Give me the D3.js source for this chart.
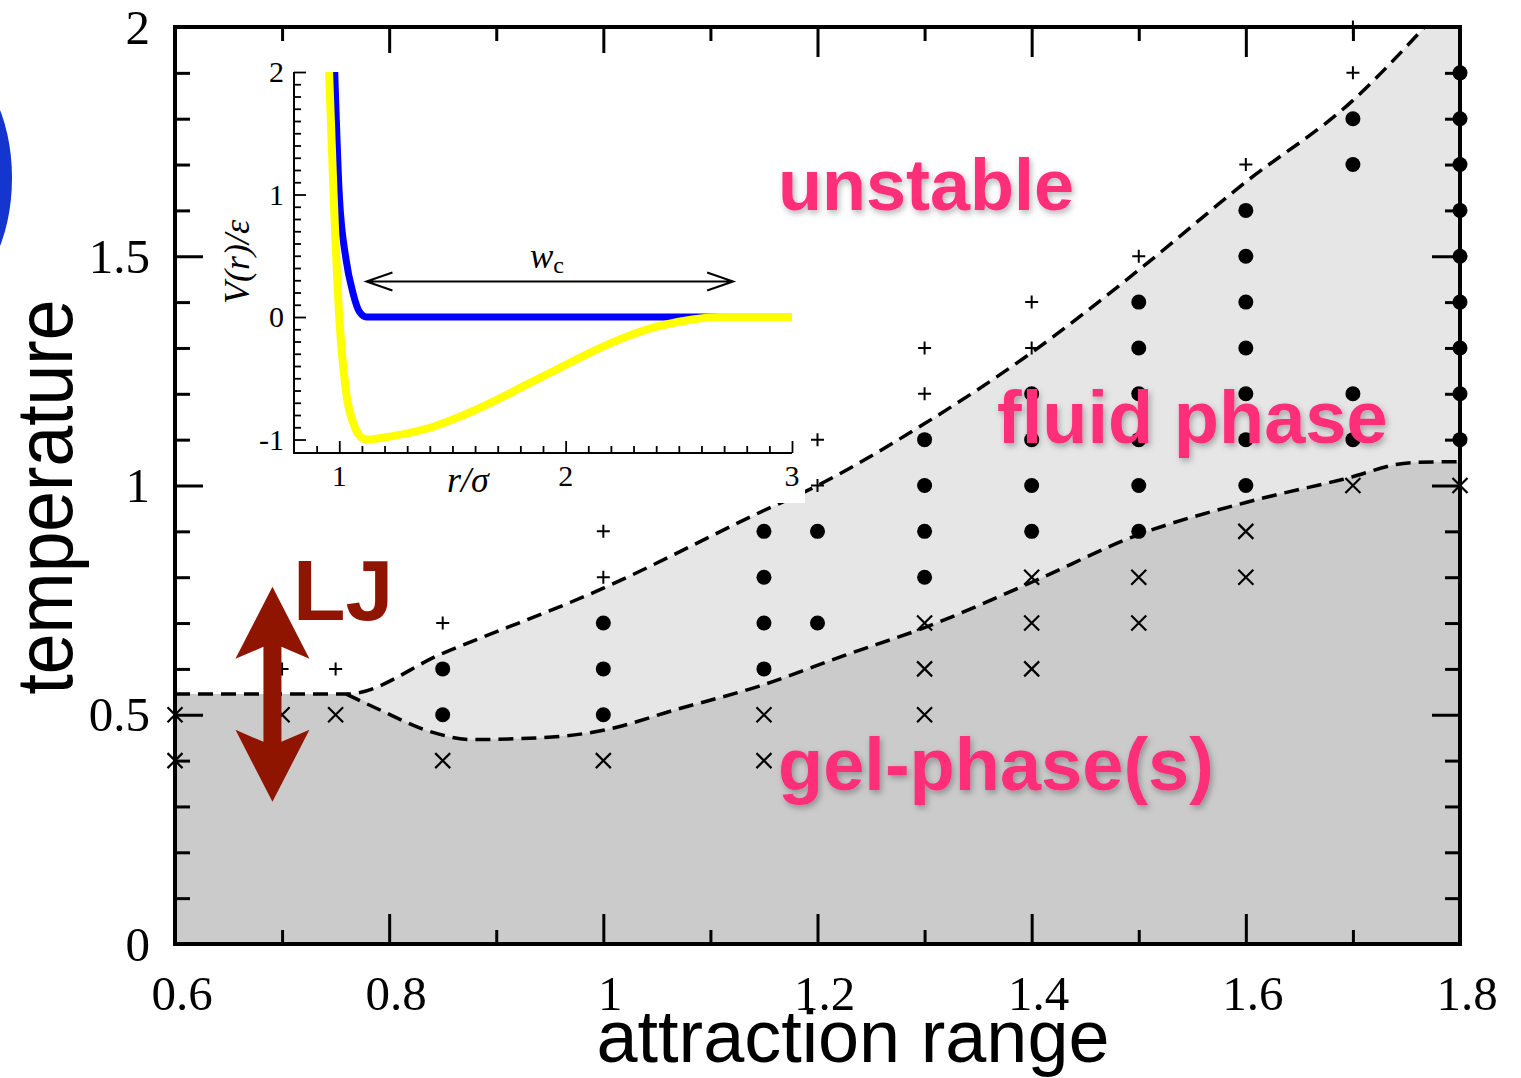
<!DOCTYPE html>
<html>
<head>
<meta charset="utf-8">
<script src="https://cdn.jsdelivr.net/npm/d3@7"></script>
<style>
  body { margin: 0; background: #fff; }
  svg { display: block; }
</style>
</head>
<body>
<div class="content"></div>
<script>
(function () {
    'use strict';

    // --- data ---
    // simulated state points: [attraction range, temperature]
    var unstablePts = [[0.7, 0.6], [0.75, 0.6], [0.85, 0.7], [1.0, 0.8], [1.0, 0.9], [1.2, 1.0], [1.2, 1.1],
        [1.3, 1.2], [1.3, 1.3], [1.4, 1.3], [1.4, 1.4], [1.5, 1.5], [1.6, 1.7], [1.7, 1.9], [1.7, 2.0]];
    var fluidPts = [[0.85, 0.5], [0.85, 0.6],
        [1.0, 0.5], [1.0, 0.6], [1.0, 0.7],
        [1.15, 0.6], [1.15, 0.7], [1.15, 0.8], [1.15, 0.9],
        [1.2, 0.7], [1.2, 0.9],
        [1.3, 0.8], [1.3, 0.9], [1.3, 1.0], [1.3, 1.1],
        [1.4, 0.9], [1.4, 1.0], [1.4, 1.1], [1.4, 1.2],
        [1.5, 0.9], [1.5, 1.0], [1.5, 1.1], [1.5, 1.2], [1.5, 1.3], [1.5, 1.4],
        [1.6, 1.0], [1.6, 1.1], [1.6, 1.2], [1.6, 1.3], [1.6, 1.4], [1.6, 1.5], [1.6, 1.6],
        [1.7, 1.1], [1.7, 1.2], [1.7, 1.7], [1.7, 1.8],
        [1.8, 1.1], [1.8, 1.2], [1.8, 1.3], [1.8, 1.4], [1.8, 1.5], [1.8, 1.6], [1.8, 1.7], [1.8, 1.8], [1.8, 1.9]];
    var gelPts = [[0.6, 0.4], [0.6, 0.5], [0.7, 0.5], [0.75, 0.5], [0.85, 0.4], [1.0, 0.4],
        [1.15, 0.4], [1.15, 0.5], [1.3, 0.5], [1.3, 0.6], [1.3, 0.7], [1.4, 0.6], [1.4, 0.7], [1.4, 0.8],
        [1.5, 0.7], [1.5, 0.8], [1.6, 0.8], [1.6, 0.9], [1.7, 1.0], [1.8, 1.0]];

    // phase boundaries
    var upperX = [0.6, 0.76, 0.85, 1.0, 1.145, 1.2, 1.3, 1.4, 1.5, 1.6, 1.7, 1.767];
    var upperT = [0.545, 0.545, 0.634, 0.776, 0.94, 1.0, 1.135, 1.29, 1.47, 1.662, 1.84, 2.0];
    var lowerX = [0.76, 0.79, 0.84, 0.877, 0.943, 1.0, 1.069, 1.145, 1.226, 1.3, 1.4, 1.5, 1.6, 1.69, 1.755, 1.8];
    var lowerT = [0.545, 0.512, 0.462, 0.446, 0.45, 0.466, 0.512, 0.562, 0.63, 0.69, 0.789, 0.893, 0.963, 1.013, 1.05, 1.052];

    var xTickLabels = [0.6, 0.8, 1, 1.2, 1.4, 1.6, 1.8];
    var yTickLabels = [0, 0.5, 1, 1.5, 2];

    // inset: pair potentials V(r)/eps
    var wideR = [0.955, 0.975, 1.0, 1.03, 1.065, 1.09, 1.12, 1.24, 1.39, 1.53, 1.68, 1.83, 1.975, 2.12, 2.27, 2.41, 2.56, 2.69, 3.0];
    var wideV = [2.0, 1.0, 0.0, -0.61, -0.88, -0.97, -1.0, -0.97, -0.91, -0.815, -0.69, -0.55, -0.415, -0.28, -0.16, -0.075, -0.02, 0, 0];
    var wcaR = [0.98, 1.0, 1.03, 1.06, 1.09, 1.12, 2.7];
    var wcaV = [2.0, 1.0, 0.47, 0.2, 0.04, 0.0, 0.0];
    var insetYLabels = ['-1', '0', '1', '2'];
    var insetXLabels = [1, 2, 3];

    var W = 1521, H = 1078,
        serif = '"Liberation Serif", "DejaVu Serif", serif',
        sans = '"Liberation Sans", Arimo, Helvetica, Arial, sans-serif',
        pink = '#ff2d78', darkRed = '#901500';

    var svg = d3.select('.content').append('svg').attr('width', W).attr('height', H);
    var defs = svg.append('defs');
    var shadow = defs.append('filter').attr('id', 'shadow')
        .attr('x', '-10%').attr('y', '-20%').attr('width', '130%').attr('height', '150%');
    shadow.append('feDropShadow').attr('dx', 2).attr('dy', 3).attr('stdDeviation', 3)
        .attr('flood-color', '#000').attr('flood-opacity', 0.3);

    // blue blob cut by the left edge
    svg.append('ellipse').attr('cx', -50).attr('cy', 178).attr('rx', 62).attr('ry', 115).attr('fill', '#1535cf');

    var x = d3.scaleLinear().domain([0.6, 1.8]).range([175, 1460]);
    var y = d3.scaleLinear().domain([0, 2]).range([944, 27]);

    function pairs(a, b) {
        return a.map(function (v, i) { return [v, b[i]]; });
    }
    var upperPts = pairs(upperX, upperT), lowerPts = pairs(lowerX, lowerT);
    var boundary = d3.line().x(function (d) { return x(d[0]); }).y(function (d) { return y(d[1]); })
        .curve(d3.curveMonotoneX);

    // regions
    svg.append('path')
        .attr('d', boundary(upperPts) + 'L' + x(1.8) + ',' + y(2) + 'L' + x(1.8) + ',' + y(0) + 'L' + x(0.6) + ',' + y(0) + 'Z')
        .attr('fill', '#e6e6e6');
    svg.append('path')
        .attr('d', boundary([[0.6, lowerT[0]]].concat(lowerPts)) + 'L' + x(1.8) + ',' + y(0) + 'L' + x(0.6) + ',' + y(0) + 'Z')
        .attr('fill', '#cbcbcb');

    [upperPts, lowerPts].forEach(function (pts) {
        svg.append('path').attr('d', boundary(pts)).attr('fill', 'none')
            .attr('stroke', '#000').attr('stroke-width', 3.5).attr('stroke-dasharray', '15,8');
    });

    // markers
    svg.append('g').selectAll('circle').data(fluidPts).enter().append('circle')
        .attr('cx', function (d) { return x(d[0]); })
        .attr('cy', function (d) { return y(d[1]); })
        .attr('r', 7.5).attr('fill', '#000');
    svg.append('g').selectAll('path').data(unstablePts).enter().append('path')
        .attr('d', function (d) {
            var cx = x(d[0]), cy = y(d[1]), s = 6.5;
            return 'M' + (cx - s) + ',' + cy + 'H' + (cx + s) + 'M' + cx + ',' + (cy - s) + 'V' + (cy + s);
        })
        .attr('stroke', '#000').attr('stroke-width', 2);
    svg.append('g').selectAll('path').data(gelPts).enter().append('path')
        .attr('d', function (d) {
            var cx = x(d[0]), cy = y(d[1]), s = 7.5;
            return 'M' + (cx - s) + ',' + (cy - s) + 'L' + (cx + s) + ',' + (cy + s) +
                'M' + (cx - s) + ',' + (cy + s) + 'L' + (cx + s) + ',' + (cy - s);
        })
        .attr('stroke', '#000').attr('stroke-width', 2.2);

    // frame and inward ticks
    function ticks(axisFn, scale, vals, size, transform, width) {
        var g = svg.append('g').attr('transform', transform)
            .call(axisFn(scale).tickValues(vals).tickSize(-size).tickFormat(''));
        g.select('.domain').remove();
        g.selectAll('line').attr('stroke', '#000').attr('stroke-width', width);
    }
    var xMajor = d3.range(6, 19, 2).map(function (i) { return i / 10; }),
        xMinor = d3.range(7, 18, 2).map(function (i) { return i / 10; }),
        yMajor = d3.range(0, 5).map(function (i) { return i / 2; }),
        yMinor = d3.range(1, 20).filter(function (i) { return i % 5; }).map(function (i) { return i / 10; });
    ticks(d3.axisBottom, x, xMajor, 30, 'translate(0,' + y(0) + ')', 3);
    ticks(d3.axisBottom, x, xMinor, 14, 'translate(0,' + y(0) + ')', 3);
    ticks(d3.axisTop, x, xMajor, 30, 'translate(0,' + y(2) + ')', 3);
    ticks(d3.axisTop, x, xMinor, 14, 'translate(0,' + y(2) + ')', 3);
    ticks(d3.axisLeft, y, yMajor, 28, 'translate(' + x(0.6) + ',0)', 3);
    ticks(d3.axisLeft, y, yMinor, 15, 'translate(' + x(0.6) + ',0)', 3);
    ticks(d3.axisRight, y, yMajor, 28, 'translate(' + x(1.8) + ',0)', 3);
    ticks(d3.axisRight, y, yMinor, 15, 'translate(' + x(1.8) + ',0)', 3);
    svg.append('rect').attr('x', x(0.6)).attr('y', y(2))
        .attr('width', x(1.8) - x(0.6)).attr('height', y(0) - y(2))
        .attr('fill', 'none').attr('stroke', '#000').attr('stroke-width', 4);

    svg.append('g').selectAll('text').data(xTickLabels).enter().append('text')
        .attr('x', function (d) { return x(d) + 7; }).attr('y', 1010)
        .attr('text-anchor', 'middle').attr('font-family', serif).attr('font-size', 49)
        .text(function (d) { return d; });
    svg.append('g').selectAll('text').data(yTickLabels).enter().append('text')
        .attr('x', 150).attr('y', function (d) { return y(d); }).attr('dy', '0.34em')
        .attr('text-anchor', 'end').attr('font-family', serif).attr('font-size', 49)
        .text(function (d) { return d; });

    svg.append('text').attr('x', 853).attr('y', 1062).attr('text-anchor', 'middle')
        .attr('font-family', sans).attr('font-size', 75)
        .attr('textLength', 513).attr('lengthAdjust', 'spacingAndGlyphs').text('attraction range');
    svg.append('text').attr('transform', 'translate(72,497) rotate(-90)').attr('text-anchor', 'middle')
        .attr('font-family', sans).attr('font-size', 80)
        .attr('textLength', 395).attr('lengthAdjust', 'spacingAndGlyphs').text('temperature');

    // --- inset ---
    svg.append('rect').attr('x', 207).attr('y', 53).attr('width', 598).attr('height', 450).attr('fill', '#fff');
    var ix = d3.scaleLinear().domain([0.8, 3.0]).range([294, 792]);
    var iy = d3.scaleLinear().domain([-1.11, 2]).range([453, 72]);
    var inset = svg.append('g');
    function iticks(axisFn, scale, vals, size, transform) {
        var g = inset.append('g').attr('transform', transform)
            .call(axisFn(scale).tickValues(vals).tickSize(-size).tickFormat(''));
        g.select('.domain').remove();
        g.selectAll('line').attr('stroke', '#000').attr('stroke-width', 1.8);
    }
    iticks(d3.axisBottom, ix, [1, 2, 3], 12, 'translate(0,453)');
    iticks(d3.axisBottom, ix, d3.range(9, 30).filter(function (i) { return i % 10; }).map(function (i) { return i / 10; }), 7, 'translate(0,453)');
    iticks(d3.axisLeft, iy, [-1, 0, 1, 2], 12, 'translate(294,0)');
    iticks(d3.axisLeft, iy, d3.range(-10, 20).filter(function (i) { return i % 10; }).map(function (i) { return i / 10; }), 7, 'translate(294,0)');
    inset.append('path').attr('d', 'M294,' + iy(2) + 'V453H' + ix(3))
        .attr('fill', 'none').attr('stroke', '#000').attr('stroke-width', 2);

    var pot = d3.line().x(function (d) { return ix(d[0]); }).y(function (d) { return iy(d[1]); })
        .curve(d3.curveMonotoneX);
    inset.append('path').attr('d', pot(pairs(wcaR, wcaV))).attr('fill', 'none')
        .attr('stroke', '#0000ff').attr('stroke-width', 7).attr('stroke-linejoin', 'round');
    inset.append('path').attr('d', pot(pairs(wideR, wideV))).attr('fill', 'none')
        .attr('stroke', '#ffff00').attr('stroke-width', 8).attr('stroke-linejoin', 'round');

    inset.append('g').selectAll('text').data(insetYLabels).enter().append('text')
        .attr('x', 284).attr('y', function (d) { return iy(+d); }).attr('dy', '0.34em')
        .attr('text-anchor', 'end').attr('font-family', serif).attr('font-size', 30)
        .text(function (d) { return d; });
    inset.append('g').selectAll('text').data(insetXLabels).enter().append('text')
        .attr('x', function (d) { return ix(d); }).attr('y', 486)
        .attr('text-anchor', 'middle').attr('font-family', serif).attr('font-size', 30)
        .text(function (d) { return d; });
    inset.append('text').attr('x', 468).attr('y', 492).attr('text-anchor', 'middle')
        .attr('font-family', serif).attr('font-style', 'italic').attr('font-size', 36).text('r/σ');
    inset.append('text').attr('transform', 'translate(249,262) rotate(-90)').attr('text-anchor', 'middle')
        .attr('font-family', serif).attr('font-style', 'italic').attr('font-size', 36).text('V(r)/ε');

    // w_c double arrow
    var wc = {r0: 1.12, r1: 2.74, v: 0.29}, ay = iy(wc.v);
    inset.append('path')
        .attr('d', 'M' + ix(wc.r0) + ',' + ay + 'H' + ix(wc.r1) +
            'M' + (ix(wc.r0) + 26) + ',' + (ay - 9) + 'L' + ix(wc.r0) + ',' + ay + 'L' + (ix(wc.r0) + 26) + ',' + (ay + 9) +
            'M' + (ix(wc.r1) - 26) + ',' + (ay - 9) + 'L' + ix(wc.r1) + ',' + ay + 'L' + (ix(wc.r1) - 26) + ',' + (ay + 9))
        .attr('fill', 'none').attr('stroke', '#000').attr('stroke-width', 2);
    var wl = inset.append('text').attr('x', 547).attr('y', 268).attr('text-anchor', 'middle')
        .attr('font-family', serif).attr('font-size', 35);
    wl.append('tspan').attr('font-style', 'italic').text('w');
    wl.append('tspan').attr('font-size', 24).attr('dy', 5).text('c');

    // --- annotations ---
    [['unstable', 778, 210, 72], ['fluid phase', 997, 443, 74], ['gel-phase(s)', 778, 790, 74]].forEach(function (t) {
        svg.append('text').attr('x', t[1]).attr('y', t[2]).attr('font-family', sans).attr('font-weight', 'bold')
            .attr('font-size', t[3]).attr('fill', pink).attr('filter', 'url(#shadow)').text(t[0]);
    });

    var lj = {x: 0.691, t0: 0.31, t1: 0.779}, lx = x(lj.x), top = y(lj.t1), bot = y(lj.t0),
        hw = 37, hl = 72, sw = 9, notch = 12;
    svg.append('path')
        .attr('d', 'M' + lx + ',' + top + 'L' + (lx + hw) + ',' + (top + hl) + 'L' + (lx + sw) + ',' + (top + hl - notch) +
            'L' + (lx + sw) + ',' + (bot - hl + notch) + 'L' + (lx + hw) + ',' + (bot - hl) + 'L' + lx + ',' + bot +
            'L' + (lx - hw) + ',' + (bot - hl) + 'L' + (lx - sw) + ',' + (bot - hl + notch) +
            'L' + (lx - sw) + ',' + (top + hl - notch) + 'L' + (lx - hw) + ',' + (top + hl) + 'Z')
        .attr('fill', darkRed);
    svg.append('text').attr('x', 293).attr('y', 620).attr('font-family', sans).attr('font-weight', 'bold')
        .attr('font-size', 86).attr('fill', darkRed).text('LJ');
}());
</script>
</body>
</html>
